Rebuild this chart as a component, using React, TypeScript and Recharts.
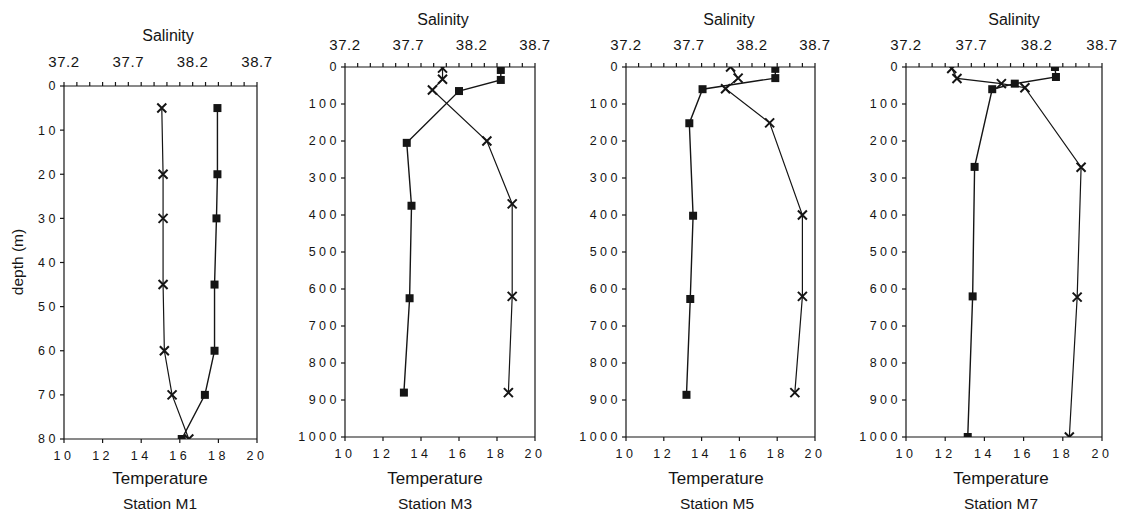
import React from "react";
import { Scatter, ScatterChart, XAxis, YAxis } from "recharts";

const INK = "#151515";
const FONT = "'Liberation Sans', Arial, Helvetica, sans-serif";

// axis ticks
const tempTicks = [10, 12, 14, 16, 18, 20];
const salTicks = [
  37.2, 37.3, 37.4, 37.5, 37.6, 37.7, 37.8, 37.9, 38.0, 38.1, 38.2, 38.3, 38.4, 38.5, 38.6, 38.7,
];
const salLabels = [37.2, 37.7, 38.2, 38.7];
const shallowTicks = [0, 10, 20, 30, 40, 50, 60, 70, 80];
const shallowSideTicks = [20, 40, 60];
const deepTicks = [0, 100, 200, 300, 400, 500, 600, 700, 800, 900, 1000];
const deepSideTicks = [200, 400, 600, 800];

// Station M1
const m1TempDepth = [5, 20, 30, 45, 60, 70, 80];
const m1Temp = [17.95, 17.95, 17.9, 17.8, 17.8, 17.3, 16.1];
const m1SalDepth = [5, 20, 30, 45, 60, 70, 80];
const m1Sal = [37.96, 37.97, 37.97, 37.97, 37.98, 38.04, 38.17];

// Station M3
const m3TempDepth = [8, 35, 65, 205, 375, 625, 880];
const m3Temp = [18.2, 18.2, 16.0, 13.25, 13.5, 13.4, 13.1];
const m3SalDepth = [3, 33, 62, 200, 370, 620, 880];
const m3Sal = [37.97, 37.97, 37.89, 38.32, 38.52, 38.52, 38.49];

// Station M5
const m5TempDepth = [5, 30, 60, 152, 402, 627, 886];
const m5Temp = [17.9, 17.9, 14.05, 13.35, 13.55, 13.4, 13.2];
const m5SalDepth = [0, 30, 59, 151, 400, 620, 880];
const m5Sal = [38.03, 38.09, 37.99, 38.34, 38.6, 38.6, 38.54];

// Station M7
const m7TempDepth = [0, 27, 45, 60, 270, 620, 1000];
const m7Temp = [17.6, 17.65, 15.55, 14.4, 13.5, 13.4, 13.15];
const m7SalDepth = [4, 31, 45, 56, 271, 622, 1000];
const m7Sal = [37.55, 37.59, 37.93, 38.11, 38.54, 38.51, 38.45];

const YW = 50; // left axis width
const RW = 10; // right axis width
const RM = 24; // room for the last salinity label
const TOP_H = 34;
const BOT_H = 30;

const stations = [
  {
    name: "Station M1", left: 64, top: 86, w: 193, h: 353, maxDepth: 80,
    ticks: shallowTicks, sideTicks: shallowSideTicks, salGap: 15,
    tempDepth: m1TempDepth, temp: m1Temp, salDepth: m1SalDepth, sal: m1Sal,
    salX: 168, salY: 36, tempX: 160, titleX: 160,
  },
  {
    name: "Station M3", left: 345, top: 67, w: 190, h: 370, maxDepth: 1000,
    ticks: deepTicks, sideTicks: deepSideTicks, salGap: 13,
    tempDepth: m3TempDepth, temp: m3Temp, salDepth: m3SalDepth, sal: m3Sal,
    salX: 443, salY: 20, tempX: 435, titleX: 435,
  },
  {
    name: "Station M5", left: 626, top: 67, w: 189, h: 370, maxDepth: 1000,
    ticks: deepTicks, sideTicks: deepSideTicks, salGap: 13,
    tempDepth: m5TempDepth, temp: m5Temp, salDepth: m5SalDepth, sal: m5Sal,
    salX: 729, salY: 20, tempX: 716, titleX: 717,
  },
  {
    name: "Station M7", left: 906, top: 67, w: 196, h: 370, maxDepth: 1000,
    ticks: deepTicks, sideTicks: deepSideTicks, salGap: 13,
    tempDepth: m7TempDepth, temp: m7Temp, salDepth: m7SalDepth, sal: m7Sal,
    salX: 1014, salY: 20, tempX: 1001, titleX: 1001,
  },
];

const Square = (p: any) => (
  <rect x={p.cx - 4} y={p.cy - 4} width={8} height={8} fill={INK} />
);

const Cross = (p: any) => (
  <path
    d={`M${p.cx - 4.5},${p.cy - 4.5}L${p.cx + 4.5},${p.cy + 4.5}M${p.cx - 4.5},${p.cy + 4.5}L${p.cx + 4.5},${p.cy - 4.5}`}
    stroke={INK}
    strokeWidth={2}
    fill="none"
  />
);

const salFormat = (v: number) =>
  salLabels.some((l) => Math.abs(l - v) < 1e-6) ? v.toFixed(1) : "";

function Label({ x, y, size, children }: { x: number; y: number; size: number; children: React.ReactNode }) {
  return (
    <div
      style={{
        position: "absolute",
        left: x,
        top: y,
        transform: "translate(-50%, -50%)",
        fontSize: size,
        lineHeight: 1,
        whiteSpace: "nowrap",
        color: INK,
      }}
    >
      {children}
    </div>
  );
}

function Station({ s }: { s: (typeof stations)[number] }) {
  const tempRows = s.tempDepth.map((d, i) => ({ t: s.temp[i], d }));
  const salRows = s.salDepth.map((d, i) => ({ s: s.sal[i], d }));
  const numTick = { fontSize: 12.5, fill: INK, letterSpacing: 3.5, fontFamily: FONT };
  return (
    <>
      <div style={{ position: "absolute", left: s.left - YW, top: s.top - TOP_H }}>
        <ScatterChart
          width={YW + s.w + RW + RM}
          height={TOP_H + s.h + BOT_H}
          margin={{ top: 0, right: RM, bottom: 0, left: 0 }}
        >
          <XAxis
            xAxisId="t"
            orientation="bottom"
            type="number"
            dataKey="t"
            domain={[10, 20]}
            ticks={tempTicks}
            interval={0}
            height={BOT_H}
            tickSize={4}
            tickMargin={8}
            stroke={INK}
            strokeWidth={1.2}
            tick={numTick}
            allowDataOverflow
          />
          <XAxis
            xAxisId="s"
            orientation="top"
            type="number"
            dataKey="s"
            domain={[37.2, 38.7]}
            ticks={salTicks}
            interval={0}
            tickFormatter={salFormat}
            height={TOP_H}
            tickSize={4}
            tickMargin={s.salGap}
            stroke={INK}
            strokeWidth={1.2}
            tick={{ fontSize: 15, fill: INK, letterSpacing: 0.6, fontFamily: FONT }}
            allowDataOverflow
          />
          <YAxis
            yAxisId="d"
            orientation="left"
            type="number"
            dataKey="d"
            domain={[0, s.maxDepth]}
            reversed
            ticks={s.ticks}
            interval={0}
            width={YW}
            tickSize={4}
            tickMargin={1}
            stroke={INK}
            strokeWidth={1.2}
            tick={numTick}
            allowDataOverflow
          />
          <YAxis
            yAxisId="r"
            orientation="right"
            type="number"
            dataKey="d"
            domain={[0, s.maxDepth]}
            reversed
            ticks={s.sideTicks}
            interval={0}
            width={RW}
            tickSize={4}
            tick={false}
            stroke={INK}
            strokeWidth={1.2}
            allowDataOverflow
          />
          <Scatter
            xAxisId="t"
            yAxisId="d"
            data={tempRows}
            line={{ stroke: INK, strokeWidth: 1.4 }}
            shape={Square}
            isAnimationActive={false}
          />
          <Scatter
            xAxisId="s"
            yAxisId="r"
            data={salRows}
            line={{ stroke: INK, strokeWidth: 1.2 }}
            shape={Cross}
            isAnimationActive={false}
          />
        </ScatterChart>
      </div>
      <Label x={s.salX} y={s.salY} size={16}>Salinity</Label>
      <Label x={s.tempX} y={478} size={17}>Temperature</Label>
      <Label x={s.titleX} y={504} size={15.5}>{s.name}</Label>
    </>
  );
}

export default function App() {
  return (
    <div
      style={{
        position: "relative",
        width: 1122,
        height: 513,
        background: "#fff",
        fontFamily: FONT,
        overflow: "hidden",
      }}
    >
      <style>{"body{margin:0}"}</style>
      {stations.map((s) => (
        <Station key={s.name} s={s} />
      ))}
      <div
        style={{
          position: "absolute",
          left: 18,
          top: 262,
          transform: "translate(-50%, -50%) rotate(-90deg)",
          fontSize: 15.5,
          whiteSpace: "nowrap",
          lineHeight: 1,
          color: INK,
        }}
      >
        depth (m)
      </div>
    </div>
  );
}
